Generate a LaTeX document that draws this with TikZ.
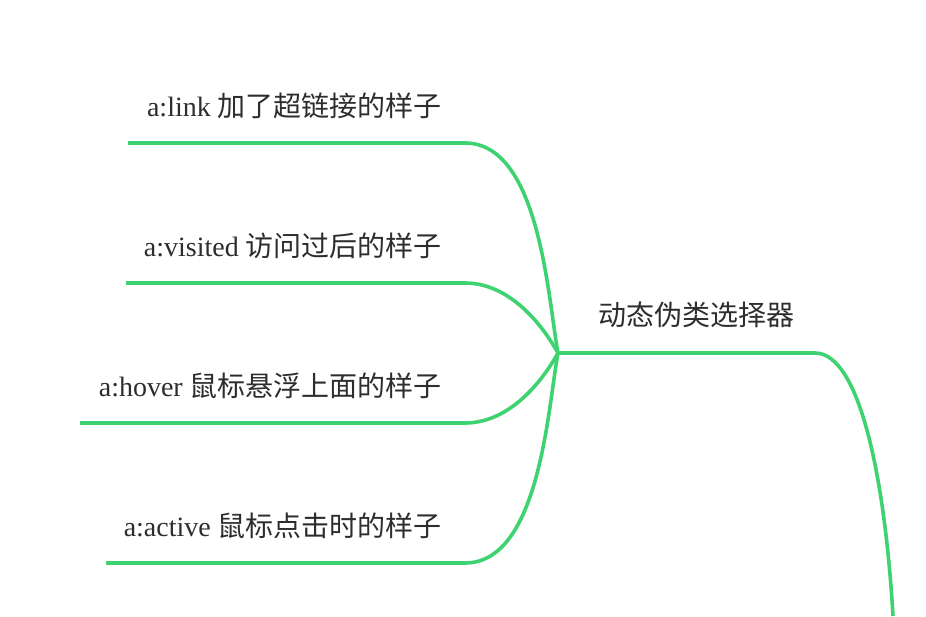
\documentclass[tikz,border=0pt]{standalone}
\usepackage{fontspec}
\setmainfont{Liberation Serif}
\newfontfamily\cjk{Noto Sans CJK SC}
\definecolor{mapgreen}{RGB}{62,211,112}
\definecolor{txtgray}{RGB}{45,45,45}
\tikzset{
  branch/.style={draw=mapgreen, line width=3.6pt},
  leaf/.style={anchor=base east, inner sep=0pt, text=txtgray, font=\fontsize{28}{33}\selectfont},
  topic/.style={anchor=base west, inner sep=0pt, text=txtgray, font=\fontsize{28}{33}\selectfont\cjk},
}
\begin{document}
\begin{tikzpicture}[x=1pt,y=-1pt]
\useasboundingbox (0,0) rectangle (926,616);
\coordinate (hub) at (558,353);
\coordinate (mainR) at (815,353);
\coordinate (mainEnd) at (893,616);
\coordinate (linkL) at (128,143);
\coordinate (linkR) at (465,143);
\coordinate (visitedL) at (126,283);
\coordinate (visitedR) at (465,283);
\coordinate (hoverL) at (80,423);
\coordinate (hoverR) at (465,423);
\coordinate (activeL) at (106,563);
\coordinate (activeR) at (465,563);
\node[topic] (main) at (598,325) {动态伪类选择器};
\node[leaf] (link) at (442,116) {a:link {\cjk 加了超链接的样子}};
\node[leaf] (visited) at (442,256) {a:visited {\cjk 访问过后的样子}};
\node[leaf] (hover) at (442,396) {a:hover {\cjk 鼠标悬浮上面的样子}};
\node[leaf] (active) at (442,536) {a:active {\cjk 鼠标点击时的样子}};
\draw[branch] (linkL) -- (linkR) .. controls +(75,0) and +(-10,-53) .. (hub);
\draw[branch] (visitedL) -- (visitedR) .. controls +(50,0) and +(-10,-18) .. (hub);
\draw[branch] (hoverL) -- (hoverR) .. controls +(50,0) and +(-10,18) .. (hub);
\draw[branch] (activeL) -- (activeR) .. controls +(75,0) and +(-10,53) .. (hub);
\draw[branch] (hub) -- (mainR) .. controls +(45,0) and +(-8,-136) .. (mainEnd);
\end{tikzpicture}
\end{document}
